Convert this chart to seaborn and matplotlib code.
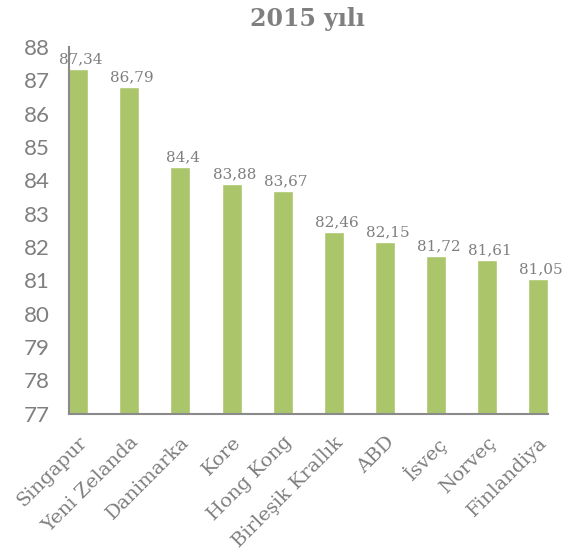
"""2015 yılı bar chart."""

import matplotlib
matplotlib.use("Agg")
import matplotlib.pyplot as plt
import pandas as pd
import seaborn as sns

countries = ["Singapur", "Yeni Zelanda", "Danimarka", "Kore", "Hong Kong",
             "Birleşik Krallık", "ABD", "İsveç", "Norveç", "Finlandiya"]
scores = [87.34, 86.79, 84.4, 83.88, 83.67, 82.46, 82.15, 81.72, 81.61, 81.05]
y_ticks = list(range(77, 89))

GREEN = "#abc56b"
GRAY = "#7f7f7f"
AXIS_GRAY = "#8a8a8a"
SERIF = ["DejaVu Serif"]
SANS = ["Lato", "DejaVu Sans"]

sns.set_style("white")

df = pd.DataFrame({"country": countries, "score": scores})

fig = plt.figure(figsize=(5.65, 5.54), dpi=100)
ax = fig.add_axes([0.122, 0.253, 0.848, 0.662])

sns.barplot(data=df, x="country", y="score", color=GREEN, saturation=1,
            width=0.39, ax=ax)

ax.set_ylim(77, 88)
ax.set_xlim(-0.18, len(countries) - 1 + 0.19)
ax.set_yticks(y_ticks)
ax.set_yticklabels([str(t) for t in y_ticks], family=SANS, fontsize=16, color=GRAY)
ax.set_xticks(range(len(countries)))
ax.set_xticklabels(countries, rotation=45, ha="right", rotation_mode="anchor",
                   family=SERIF, fontsize=14, color=GRAY)
ax.set_xlabel("")
ax.set_ylabel("")

for side in ["top", "right"]:
    ax.spines[side].set_visible(False)
for side in ["left", "bottom"]:
    ax.spines[side].set_color(AXIS_GRAY)
    ax.spines[side].set_linewidth(1.5)
ax.tick_params(axis="y", length=8, width=1.5, color=AXIS_GRAY, pad=6)
ax.tick_params(axis="x", length=10, width=1.5, color=AXIS_GRAY, pad=4)

for i, v in enumerate(scores):
    ax.annotate(str(v).replace(".", ","), (i, v), xytext=(2, 2),
                textcoords="offset points", ha="center", va="bottom",
                family=SERIF, fontsize=11, color=GRAY)

fig.text(0.545, 0.965, "2015 yılı", ha="center", va="center",
         family=SERIF, fontsize=17, fontweight="bold", color=GRAY)

fig.savefig("out.png", dpi=100)
